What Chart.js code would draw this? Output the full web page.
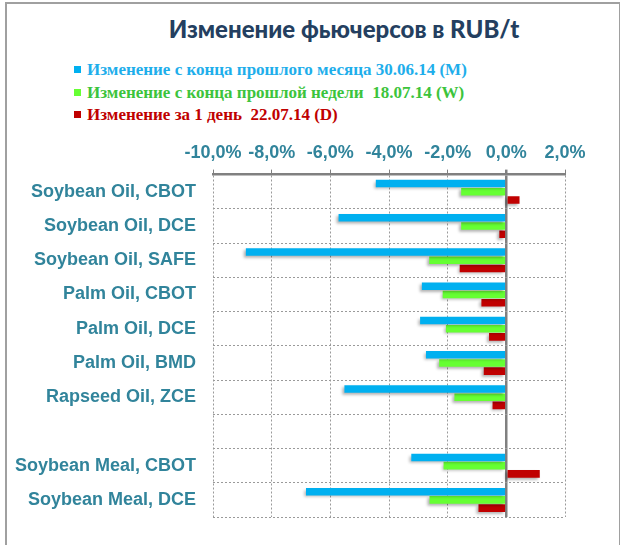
<!DOCTYPE html>
<html>
<head>
<meta charset="utf-8">
<script src="https://cdn.jsdelivr.net/npm/chart.js@4.4.1/dist/chart.umd.min.js"></script>
<style>
  body { margin: 0; background: #fff; }
  #wrap { position: relative; width: 620px; height: 545px; }
  #frame { position: absolute; left: 5px; top: 2px; width: 612px; height: 560px;
           border: 2px solid #a0a0a0; border-bottom: none; }
  #title { position: absolute; left: 0; width: 688px; top: 14px; text-align: center;
           font: 900 24px Lato, sans-serif; color: #243f60; }
  #legend { position: absolute; left: 74px; top: 59px;
            font: bold 17px "Liberation Serif", serif; line-height: 22.5px; }
  #legend .sw { display: inline-block; width: 7px; height: 7px; margin-right: 6px; vertical-align: 2px; }
  canvas { position: absolute; left: 0; top: 0; }
</style>
</head>
<body>
<div id="wrap">
  <div id="frame"></div>
  <div id="title">Изменение фьючерсов в RUB/t</div>
  <div id="legend"></div>
  <canvas id="barChart" width="620" height="545"></canvas>
</div>
<script>
// categories and values (% change)
const categories = ['Soybean Oil, CBOT', 'Soybean Oil, DCE', 'Soybean Oil, SAFE', 'Palm Oil, CBOT',
  'Palm Oil, DCE', 'Palm Oil, BMD', 'Rapseed Oil, ZCE', '', 'Soybean Meal, CBOT', 'Soybean Meal, DCE'];
const monthChange = [-4.45, -5.72, -8.88, -2.88, -2.94, -2.74, -5.52, null, -3.24, -6.83];
const weekChange = [-1.54, -1.54, -2.63, -2.17, -2.06, -2.29, -1.77, null, -2.14, -2.62];
const dayChange = [0.45, -0.24, -1.59, -0.85, -0.59, -0.77, -0.47, null, 1.14, -0.95];
const seriesNames = [
  'Изменение с конца прошлого месяца 30.06.14 (M)',
  'Изменение с конца прошлой недели  18.07.14 (W)',
  'Изменение за 1 день  22.07.14 (D)'
];
const barColors = ['#00b0f0', '#66ff33', '#c00000'];
const textColors = ['#1eaeeb', '#3cc43c', '#c00000'];
const xTicks = [-10, -8, -6, -4, -2, 0, 2];

// legend as html
const legend = document.getElementById('legend');
seriesNames.forEach((name, i) => {
  const row = document.createElement('div');
  row.style.color = textColors[i];
  row.style.whiteSpace = 'pre';
  row.innerHTML = '<span class="sw" style="background:' + barColors[i] + '"></span>';
  row.appendChild(document.createTextNode(name));
  legend.appendChild(row);
});

// soft shadow under the bars
const barShadow = {
  id: 'barShadow',
  beforeDatasetsDraw(chart) {
    const ctx = chart.ctx;
    ctx.save();
    ctx.shadowColor = 'rgba(0,0,0,0.3)';
    ctx.shadowBlur = 3;
    ctx.shadowOffsetX = -2;
    ctx.shadowOffsetY = 2;
  },
  afterDatasetsDraw(chart) {
    chart.ctx.restore();
  }
};

const teal = '#31849b';

new Chart(document.getElementById('barChart'), {
  type: 'bar',
  data: {
    labels: categories,
    datasets: [monthChange, weekChange, dayChange].map((d, i) => ({
      label: seriesNames[i],
      data: d,
      backgroundColor: barColors[i],
      borderWidth: 0,
      categoryPercentage: 0.72,
      barPercentage: 0.92
    }))
  },
  options: {
    indexAxis: 'y',
    responsive: false,
    animation: false,
    layout: { padding: { top: 136, left: 6, right: 55, bottom: 28 } },
    plugins: {
      legend: { display: false },
      tooltip: { enabled: false }
    },
    scales: {
      x: {
        position: 'top',
        min: -10,
        max: 2,
        afterBuildTicks: (scale) => { scale.ticks = xTicks.map(v => ({ value: v })); },
        ticks: {
          color: teal,
          font: { family: 'Liberation Sans', size: 18, weight: 'bold' },
          padding: 6,
          maxRotation: 0,
          minRotation: 0,
          autoSkip: false,
          callback: (v) => v.toFixed(1).replace('.', ',') + '%'
        },
        grid: {
          color: (c) => c.tick && c.tick.value === 0 ? '#808080' : '#9a9a9a',
          lineWidth: (c) => c.tick && c.tick.value === 0 ? 2.5 : 1,
          tickColor: '#808080',
          tickLength: 5
        },
        border: {
          color: '#808080',
          width: 2.5,
          dash: (c) => c.tick && c.tick.value === 0 ? [] : [2, 2]
        }
      },
      y: {
        afterFit: (scale) => { scale.width = 207; },
        ticks: {
          color: teal,
          font: { family: 'Liberation Sans', size: 18, weight: 'bold' },
          padding: 17
        },
        grid: { color: '#9a9a9a', drawTicks: false },
        border: { display: false, dash: [2, 2] }
      }
    }
  },
  plugins: [barShadow]
});
</script>
</body>
</html>
